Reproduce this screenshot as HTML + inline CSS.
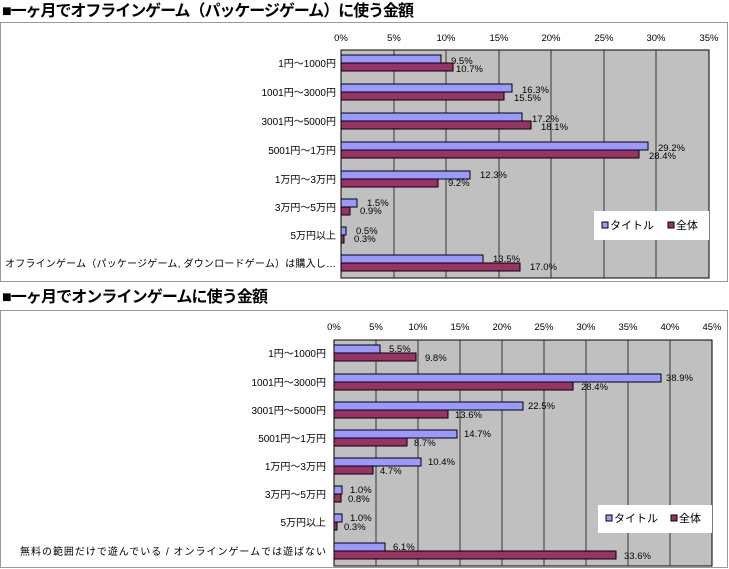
<!DOCTYPE html>
<html><head><meta charset="utf-8"><style>
body{margin:0;background:#fff;}
svg{display:block;font-family:"Liberation Sans","Noto Sans CJK JP",sans-serif;}
</style></head><body>
<svg width="729" height="569" xmlns="http://www.w3.org/2000/svg">
<rect width="729" height="569" fill="#fff"/>
<text x="2" y="16" font-size="16" font-weight="bold" textLength="412">■一ヶ月でオフラインゲーム（パッケージゲーム）に使う金額</text>
<rect x="0.5" y="22.5" width="727" height="259" fill="#fff" stroke="#999"/>
<g font-size="9.5" text-anchor="middle">
<text x="341" y="41">0%</text><text x="394" y="41">5%</text><text x="446" y="41">10%</text><text x="499" y="41">15%</text><text x="551" y="41">20%</text><text x="604" y="41">25%</text><text x="656" y="41">30%</text><text x="709" y="41">35%</text>
</g>
<rect x="341" y="50" width="368" height="228" fill="#c0c0c0" stroke="#000"/>
<g stroke="#333" stroke-width="1">
<line x1="394" y1="50" x2="394" y2="278"/><line x1="446" y1="50" x2="446" y2="278"/><line x1="499" y1="50" x2="499" y2="278"/><line x1="551" y1="50" x2="551" y2="278"/><line x1="604" y1="50" x2="604" y2="278"/><line x1="656" y1="50" x2="656" y2="278"/>
</g>
<g font-size="10" text-anchor="end">
<text x="336" y="67">1円～1000円</text><text x="336" y="96">1001円～3000円</text><text x="336" y="125">3001円～5000円</text><text x="336" y="154">5001円～1万円</text><text x="336" y="183">1万円～3万円</text><text x="336" y="211">3万円～5万円</text><text x="336" y="239">5万円以上</text><text x="336" y="267" textLength="331">オフラインゲーム（パッケージゲーム, ダウンロードゲーム）は購入し…</text>
</g>
<g stroke="#000" stroke-width="1">
<rect x="341" y="55" width="100" height="8" fill="#9999ff"/><rect x="341" y="63" width="112" height="8" fill="#993366"/>
<rect x="341" y="84" width="171" height="8" fill="#9999ff"/><rect x="341" y="92" width="163" height="8" fill="#993366"/>
<rect x="341" y="113" width="181" height="8" fill="#9999ff"/><rect x="341" y="121" width="190" height="8" fill="#993366"/>
<rect x="341" y="142" width="307" height="8" fill="#9999ff"/><rect x="341" y="150" width="298" height="8" fill="#993366"/>
<rect x="341" y="171" width="129" height="8" fill="#9999ff"/><rect x="341" y="179" width="97" height="8" fill="#993366"/>
<rect x="341" y="199" width="16" height="8" fill="#9999ff"/><rect x="341" y="207" width="9" height="8" fill="#993366"/>
<rect x="341" y="227" width="5" height="8" fill="#9999ff"/><rect x="341" y="235" width="3" height="8" fill="#993366"/>
<rect x="341" y="255" width="142" height="8" fill="#9999ff"/><rect x="341" y="263" width="179" height="8" fill="#993366"/>
</g>
<g font-size="9.5">
<text x="451" y="64">9.5%</text><text x="456" y="72">10.7%</text>
<text x="522" y="93">16.3%</text><text x="514" y="101">15.5%</text>
<text x="532" y="122">17.2%</text><text x="541" y="130">18.1%</text>
<text x="658" y="151">29.2%</text><text x="649" y="159">28.4%</text>
<text x="480" y="178">12.3%</text><text x="448" y="186">9.2%</text>
<text x="367" y="206">1.5%</text><text x="360" y="214">0.9%</text>
<text x="356" y="234">0.5%</text><text x="354" y="242">0.3%</text>
<text x="493" y="262">13.5%</text><text x="530" y="270">17.0%</text>
</g>
<rect x="594" y="211" width="115" height="29" fill="#fff"/>
<rect x="602" y="222" width="6" height="6" fill="#9999ff" stroke="#000"/><text x="610" y="229" font-size="11">タイトル</text>
<rect x="668" y="222" width="6" height="6" fill="#993366" stroke="#000"/><text x="676" y="229" font-size="11">全体</text>

<text x="2" y="302" font-size="16" font-weight="bold" textLength="266">■一ヶ月でオンラインゲームに使う金額</text>
<rect x="0.5" y="310.5" width="727" height="257" fill="#fff" stroke="#999"/>
<g font-size="9.5" text-anchor="middle">
<text x="334" y="330">0%</text><text x="376" y="330">5%</text><text x="418" y="330">10%</text><text x="460" y="330">15%</text><text x="502" y="330">20%</text><text x="544" y="330">25%</text><text x="586" y="330">30%</text><text x="628" y="330">35%</text><text x="670" y="330">40%</text><text x="712" y="330">45%</text>
</g>
<rect x="334" y="340" width="378" height="226" fill="#c0c0c0" stroke="#000"/>
<g stroke="#333">
<line x1="376" y1="340" x2="376" y2="566"/><line x1="418" y1="340" x2="418" y2="566"/><line x1="460" y1="340" x2="460" y2="566"/><line x1="502" y1="340" x2="502" y2="566"/><line x1="544" y1="340" x2="544" y2="566"/><line x1="586" y1="340" x2="586" y2="566"/><line x1="628" y1="340" x2="628" y2="566"/><line x1="670" y1="340" x2="670" y2="566"/>
</g>
<g font-size="10" text-anchor="end">
<text x="326" y="357">1円～1000円</text><text x="326" y="386">1001円～3000円</text><text x="326" y="414">3001円～5000円</text><text x="326" y="442">5001円～1万円</text><text x="326" y="470">1万円～3万円</text><text x="326" y="498">3万円～5万円</text><text x="326" y="526">5万円以上</text><text x="326" y="555" textLength="306">無料の範囲だけで遊んでいる / オンラインゲームでは遊ばない</text>
</g>
<g stroke="#000">
<rect x="334" y="345" width="46" height="8" fill="#9999ff"/><rect x="334" y="353" width="82" height="8" fill="#993366"/>
<rect x="334" y="374" width="327" height="8" fill="#9999ff"/><rect x="334" y="382" width="239" height="8" fill="#993366"/>
<rect x="334" y="402" width="189" height="8" fill="#9999ff"/><rect x="334" y="410" width="114" height="8" fill="#993366"/>
<rect x="334" y="430" width="123" height="8" fill="#9999ff"/><rect x="334" y="438" width="73" height="8" fill="#993366"/>
<rect x="334" y="458" width="87" height="8" fill="#9999ff"/><rect x="334" y="466" width="39" height="8" fill="#993366"/>
<rect x="334" y="486" width="8" height="8" fill="#9999ff"/><rect x="334" y="494" width="7" height="8" fill="#993366"/>
<rect x="334" y="514" width="8" height="8" fill="#9999ff"/><rect x="334" y="522" width="3" height="8" fill="#993366"/>
<rect x="334" y="543" width="51" height="8" fill="#9999ff"/><rect x="334" y="551" width="282" height="8" fill="#993366"/>
</g>
<g font-size="9.5">
<text x="389" y="352">5.5%</text><text x="425" y="361">9.8%</text>
<text x="666" y="381">38.9%</text><text x="581" y="390">28.4%</text>
<text x="528" y="409">22.5%</text><text x="455" y="418">13.6%</text>
<text x="464" y="437">14.7%</text><text x="414" y="446">8.7%</text>
<text x="428" y="465">10.4%</text><text x="380" y="474">4.7%</text>
<text x="350" y="493">1.0%</text><text x="348" y="502">0.8%</text>
<text x="350" y="521">1.0%</text><text x="344" y="530">0.3%</text>
<text x="393" y="550">6.1%</text><text x="624" y="559">33.6%</text>
</g>
<rect x="598" y="505" width="114" height="28" fill="#fff"/>
<rect x="606" y="515" width="6" height="6" fill="#9999ff" stroke="#000"/><text x="614" y="522" font-size="11">タイトル</text>
<rect x="671" y="515" width="6" height="6" fill="#993366" stroke="#000"/><text x="679" y="522" font-size="11">全体</text>
</svg>
</body></html>
